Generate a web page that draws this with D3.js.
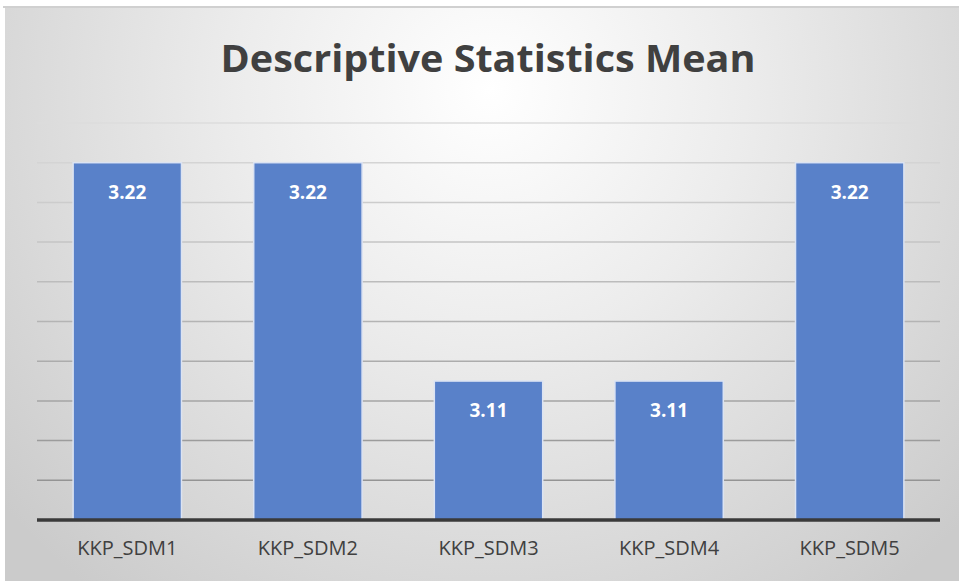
<!DOCTYPE html>
<html>
<head>
<meta charset="utf-8">
<script src="https://cdn.jsdelivr.net/npm/d3@7"></script>
<style>
  body { margin: 0; background: #fff; }
  svg text { font-family: "Open Sans", "Noto Sans", sans-serif; }
</style>
</head>
<body>
<svg></svg>
<script>

// data
var categories = ['KKP_SDM1', 'KKP_SDM2', 'KKP_SDM3', 'KKP_SDM4', 'KKP_SDM5']
var means = [3.22, 3.22, 3.11, 3.11, 3.22]
var gridTicks = [3.06, 3.08, 3.10, 3.12, 3.14, 3.16, 3.18, 3.20, 3.22, 3.24]
var chartTitle = 'Descriptive Statistics Mean'

var width = 959,
    height = 581

var svg = d3.select('svg')
            .attr('width', width)
            .attr('height', height)

// radial background like the office chart style
var defs = svg.append('defs')
var grad = defs.append('radialGradient')
    .attr('id', 'bg')
    .attr('gradientUnits', 'userSpaceOnUse')
    .attr('cx', 490).attr('cy', 90).attr('r', 640)
grad.append('stop').attr('offset', '0%').attr('stop-color', '#ffffff')
grad.append('stop').attr('offset', '40%').attr('stop-color', '#ececec')
grad.append('stop').attr('offset', '100%').attr('stop-color', '#cbcbcb')

svg.append('rect')
  .attr('x', 5).attr('y', 7)
  .attr('width', width - 5).attr('height', height - 7)
  .attr('fill', 'url(#bg)')
svg.append('line')
  .attr('x1', 3).attr('x2', width).attr('y1', 7).attr('y2', 7)
  .attr('stroke', '#d0d0d0').attr('stroke-width', 2)

var plotLeft = 37, plotRight = 940, plotTop = 123, plotBottom = 520

var x = d3.scaleBand()
    .domain(categories)
    .range([plotLeft, plotRight])
    .paddingInner(0.4)
    .paddingOuter(0.2)

var y = d3.scaleLinear()
    .domain([3.04, 3.24])
    .range([plotBottom, plotTop])

// gridlines get darker towards the bottom
var gridColor = d3.scaleLinear()
    .domain([plotTop, plotBottom])
    .range(['#dcdcdc', '#8c8c8c'])

svg.append('g')
  .selectAll('line')
  .data(gridTicks)
  .enter()
  .append('line')
    .attr('x1', plotLeft).attr('x2', plotRight)
    .attr('y1', d => y(d)).attr('y2', d => y(d))
    .attr('stroke', d => gridColor(y(d)))
    .attr('stroke-width', 1.5)

var bars = svg.append('g')
  .selectAll('g')
  .data(categories)
  .enter()
  .append('g')

bars.append('rect')
  .attr('x', d => x(d))
  .attr('y', (d, i) => y(means[i]))
  .attr('width', x.bandwidth())
  .attr('height', (d, i) => y(3.04) - y(means[i]))
  .attr('fill', '#5981c9')
  .attr('stroke', '#dbe3f3')
  .attr('stroke-width', 1.5)

bars.append('text')
  .text((d, i) => means[i].toFixed(2))
  .attr('x', d => x(d) + x.bandwidth() / 2)
  .attr('y', (d, i) => y(means[i]) + 36)
  .attr('text-anchor', 'middle')
  .attr('fill', '#ffffff')
  .style('font-weight', 'bold')
  .style('font-size', '19px')

// baseline + category axis
var xAxis = svg.append('g')
    .attr('transform', `translate(0, ${plotBottom})`)
    .call(d3.axisBottom(x).tickSize(0).tickPadding(21))
xAxis.select('.domain')
    .attr('stroke', '#3a3a3a')
    .attr('stroke-width', 3.5)
    .attr('d', `M${plotLeft},0H${plotRight}`)
xAxis.selectAll('text')
    .attr('fill', '#404040')
    .style('font-size', '20px')

svg.append('text')
  .text(chartTitle)
  .attr('x', 488)
  .attr('y', 72)
  .attr('text-anchor', 'middle')
  .attr('fill', '#404040')
  .style('font-weight', 'bold')
  .style('font-size', '38px')
  .attr('textLength', 535)
  .attr('lengthAdjust', 'spacingAndGlyphs')

</script>
</body>
</html>
